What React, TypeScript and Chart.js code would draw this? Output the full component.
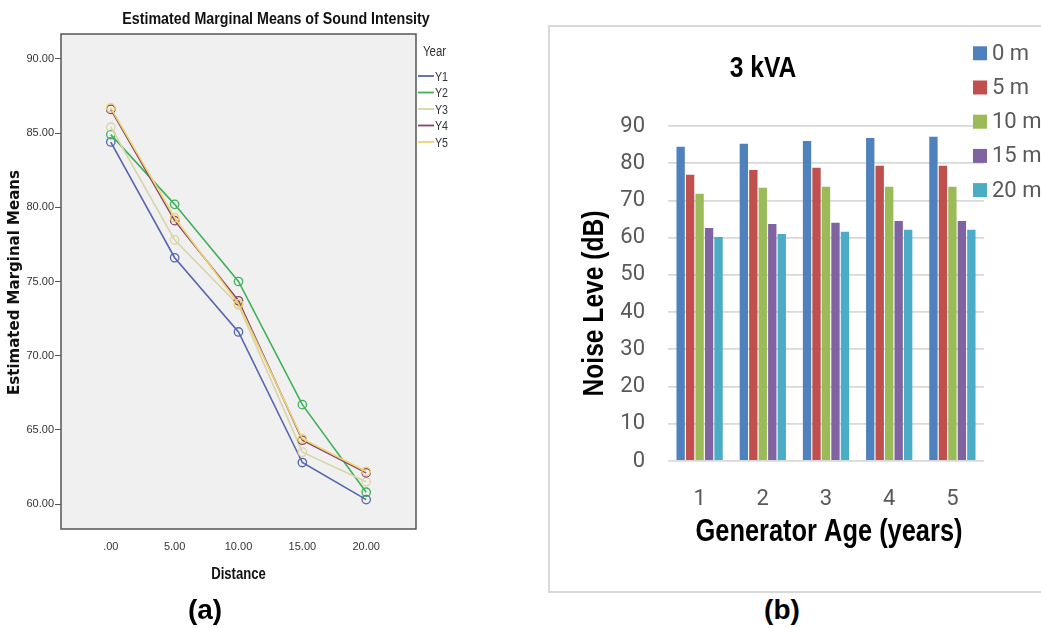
import React, { useEffect, useRef } from 'react';
import { Chart, registerables } from 'chart.js';

Chart.register(...registerables);

// ---------- Panel (a): Estimated Marginal Means ----------
const DISTANCES = [0, 5, 10, 15, 20];
const YEARS = ['Y1', 'Y2', 'Y3', 'Y4', 'Y5'];
const Y1_MEANS = [84.4, 76.6, 71.6, 62.8, 60.3];
const Y2_MEANS = [84.9, 80.2, 75.0, 66.7, 60.8];
const Y3_MEANS = [85.4, 77.8, 73.4, 63.5, 61.5];
const Y4_MEANS = [86.6, 79.1, 73.7, 64.3, 62.1];
const Y5_MEANS = [86.7, 79.3, 73.5, 64.4, 62.2];
const MEANS_TICKS = [60, 65, 70, 75, 80, 85, 90];
const YEAR_COLORS = ['#5566ac', '#3fb159', '#d9d4a9', '#84456f', '#efd36e'];

// ---------- Panel (b): 3 kVA noise levels ----------
const AGES = ['1', '2', '3', '4', '5'];
const DIST_LABELS = ['0 m', '5 m', '10 m', '15 m', '20 m'];
const NOISE_0M = [84.4, 85.2, 86.0, 86.8, 87.1];
const NOISE_5M = [76.9, 78.2, 78.8, 79.3, 79.3];
const NOISE_10M = [71.8, 73.4, 73.7, 73.7, 73.7];
const NOISE_15M = [62.6, 63.7, 64.0, 64.5, 64.5];
const NOISE_20M = [60.2, 61.0, 61.6, 62.1, 62.1];
const NOISE_TICK_STEP = 10;
const BAR_COLORS = ['#4f81bd', '#c0504d', '#9bbb59', '#8064a2', '#4bacc6'];

const ARIAL = '"Liberation Sans", Arial, sans-serif';
const ROBOTO = 'Roboto, "Noto Sans", sans-serif';
const NARROW_X = 0.82; // horizontal squeeze that imitates a condensed face

function drawText(
  ctx: CanvasRenderingContext2D,
  text: string,
  x: number,
  y: number,
  font: string,
  color: string,
  sx = 1,
  rot = 0,
  align: CanvasTextAlign = 'center'
) {
  ctx.save();
  ctx.translate(x, y);
  if (rot) ctx.rotate(rot);
  ctx.scale(sx, 1);
  ctx.font = font;
  ctx.fillStyle = color;
  ctx.textAlign = align;
  ctx.textBaseline = 'middle';
  ctx.fillText(text, 0, 0);
  ctx.restore();
}

const spssPlugin = {
  id: 'spssPlugin',
  beforeDraw(chart: any) {
    const { ctx, chartArea: a } = chart;
    ctx.save();
    ctx.fillStyle = '#f0f0f0';
    ctx.fillRect(a.left, a.top, a.right - a.left, a.bottom - a.top);
    ctx.restore();
  },
  afterDatasetsDraw(chart: any) {
    const { ctx, chartArea: a } = chart;
    ctx.save();
    ctx.strokeStyle = '#555';
    ctx.lineWidth = 1.5;
    ctx.strokeRect(a.left, a.top, a.right - a.left, a.bottom - a.top);
    ctx.restore();
  },
  afterDraw(chart: any) {
    const { ctx, chartArea: a } = chart;
    drawText(ctx, 'Estimated Marginal Means of Sound Intensity', 276, 19, `bold 17.4px ${ARIAL}`, '#111', NARROW_X);
    drawText(ctx, 'Distance', (a.left + a.right) / 2, 575, `bold 16px ${ARIAL}`, '#111', NARROW_X);
    drawText(ctx, 'Estimated Marginal Means', 15, (a.top + a.bottom) / 2 + 1, `bold 15px "DejaVu Sans", Verdana, sans-serif`, '#111', 1, -Math.PI / 2);
    drawText(ctx, 'Year', 423, 52, `14px ${ARIAL}`, '#333', NARROW_X, 0, 'left');
    chart.data.datasets.forEach((ds: any, i: number) => {
      const y = 76 + i * 16.5;
      ctx.save();
      ctx.strokeStyle = ds.borderColor;
      ctx.lineWidth = 1.8;
      ctx.beginPath();
      ctx.moveTo(418, y);
      ctx.lineTo(434, y);
      ctx.stroke();
      ctx.restore();
      drawText(ctx, ds.label, 435, y + 1, `13px ${ARIAL}`, '#333', NARROW_X, 0, 'left');
    });
  },
};

const barPlugin = {
  id: 'barPlugin',
  afterDraw(chart: any) {
    const { ctx, chartArea: a } = chart;
    drawText(ctx, '3 kVA', 213, 42, `bold 30px ${ARIAL}`, '#000', NARROW_X);
    drawText(ctx, 'Noise Leve (dB)', 45, (a.top + a.bottom) / 2 + 10, `bold 30px ${ARIAL}`, '#000', NARROW_X, -Math.PI / 2);
    drawText(ctx, 'Generator Age (years)', (a.left + a.right) / 2 + 3, 505, `bold 31px ${ARIAL}`, '#000', NARROW_X);
    chart.data.datasets.forEach((ds: any, i: number) => {
      const y = 26.3 + i * 34.2;
      ctx.save();
      ctx.fillStyle = ds.backgroundColor;
      ctx.fillRect(423, y - 7, 14, 14);
      ctx.restore();
      drawText(ctx, ds.label, 442, y + 1, `22px ${ROBOTO}`, '#595959', 1, 0, 'left');
    });
  },
};

export default function App() {
  const refA = useRef<HTMLCanvasElement>(null);
  const refB = useRef<HTMLCanvasElement>(null);

  useEffect(() => {
    const meanSeries = [Y1_MEANS, Y2_MEANS, Y3_MEANS, Y4_MEANS, Y5_MEANS];
    const chartA = new Chart(refA.current!, {
      type: 'line',
      data: {
        datasets: meanSeries.map((vals, i) => ({
          label: YEARS[i],
          data: vals.map((v, j) => ({ x: DISTANCES[j], y: v })),
          borderColor: YEAR_COLORS[i],
          backgroundColor: YEAR_COLORS[i],
          borderWidth: 1.6,
          pointRadius: 4.2,
          pointBorderWidth: 1.3,
          pointBackgroundColor: 'rgba(0,0,0,0)',
          pointBorderColor: YEAR_COLORS[i],
          tension: 0,
          order: 5 - i,
        })),
      },
      options: {
        animation: false,
        responsive: false,
        devicePixelRatio: 1,
        layout: { padding: { left: 0, right: 64, top: 34, bottom: 0 } },
        plugins: { legend: { display: false }, tooltip: { enabled: false }, title: { display: false } },
        scales: {
          x: {
            type: 'linear',
            min: -3.9,
            max: 23.9,
            afterFit: (s: any) => { s.height = 99; },
            afterBuildTicks: (s: any) => { s.ticks = DISTANCES.map((v) => ({ value: v })); },
            grid: { display: false, drawTicks: false },
            border: { display: false },
            ticks: {
              padding: 11,
              color: '#333',
              font: { family: ARIAL, size: 11 },
              callback: (v: any) => (Number(v) === 0 ? '.00' : Number(v).toFixed(2)),
            },
          },
          y: {
            type: 'linear',
            min: 58.32,
            max: 91.68,
            afterFit: (s: any) => { s.width = 61; },
            afterBuildTicks: (s: any) => { s.ticks = MEANS_TICKS.map((v) => ({ value: v })); },
            grid: { display: true, drawOnChartArea: false, drawTicks: true, tickLength: 6, color: '#555', lineWidth: 1 },
            border: { display: false },
            ticks: {
              padding: 1,
              color: '#333',
              font: { family: ARIAL, size: 11 },
              callback: (v: any) => Number(v).toFixed(2),
            },
          },
        },
      },
      plugins: [spssPlugin],
    } as any);

    const noiseSeries = [NOISE_0M, NOISE_5M, NOISE_10M, NOISE_15M, NOISE_20M];
    const chartB = new Chart(refB.current!, {
      type: 'bar',
      data: {
        labels: AGES,
        datasets: noiseSeries.map((vals, i) => ({
          label: DIST_LABELS[i],
          data: vals,
          backgroundColor: BAR_COLORS[i],
          borderWidth: 0,
          categoryPercentage: 0.75,
          barPercentage: 0.88,
        })),
      },
      options: {
        animation: false,
        responsive: false,
        devicePixelRatio: 1,
        layout: { padding: { left: 0, right: 86, top: 99, bottom: 0 } },
        plugins: { legend: { display: false }, tooltip: { enabled: false }, title: { display: false } },
        scales: {
          x: {
            afterFit: (s: any) => { s.height = 130; },
            grid: { display: false, drawTicks: false },
            border: { display: false },
            ticks: { padding: 25, color: '#595959', font: { family: ROBOTO, size: 22 } },
          },
          y: {
            min: 0,
            max: 90,
            afterFit: (s: any) => { s.width = 118; },
            grid: { color: '#d9d9d9', lineWidth: 1.8, drawTicks: false },
            border: { display: false },
            ticks: { stepSize: NOISE_TICK_STEP, padding: 23, color: '#595959', font: { family: ROBOTO, size: 22 } },
          },
        },
      },
      plugins: [barPlugin],
    } as any);

    return () => {
      chartA.destroy();
      chartB.destroy();
    };
  }, []);

  const capStyle: React.CSSProperties = {
    position: 'absolute',
    width: 100,
    textAlign: 'center',
    fontFamily: ARIAL,
    fontWeight: 'bold',
    fontSize: 28,
    lineHeight: '28px',
    color: '#000',
  };

  return (
    <div style={{ position: 'fixed', left: 0, top: 0, width: 1041, height: 628, overflow: 'hidden', background: '#fff' }}>
      <canvas ref={refA} width={480} height={628} style={{ position: 'absolute', left: 0, top: 0, width: 480, height: 628 }} />
      <div style={{ position: 'absolute', left: 548, top: 25, width: 600, height: 564, border: '2px solid #d9d9d9' }} />
      <canvas ref={refB} width={520} height={564} style={{ position: 'absolute', left: 550, top: 27, width: 520, height: 564 }} />
      <div style={{ ...capStyle, left: 155, top: 596 }}>(a)</div>
      <div style={{ ...capStyle, left: 732, top: 596 }}>(b)</div>
    </div>
  );
}
